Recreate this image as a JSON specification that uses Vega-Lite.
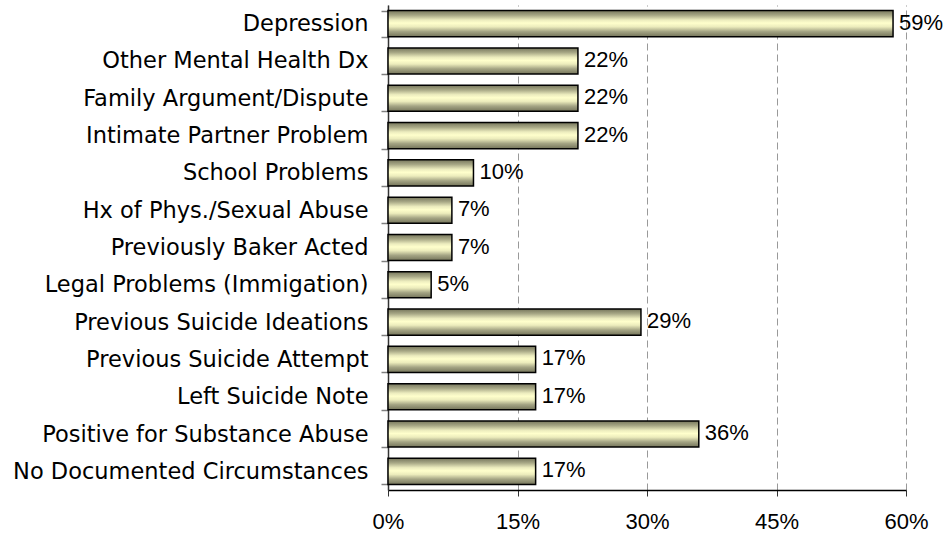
{
  "$schema": "https://vega.github.io/schema/vega-lite/v6.json",
  "autosize": "none",
  "width": 518,
  "height": 485,
  "padding": {"left": 388, "top": 5, "right": 42, "bottom": 43},
  "background": "white",
  "config": {"view": {"stroke": null}},
  "data": {
    "values": [
      {"category": "Depression", "value": 58.5, "label": "59%"},
      {"category": "Other Mental Health Dx", "value": 22.0, "label": "22%"},
      {"category": "Family Argument/Dispute", "value": 22.0, "label": "22%"},
      {"category": "Intimate Partner Problem", "value": 22.0, "label": "22%"},
      {"category": "School Problems", "value": 9.9, "label": "10%"},
      {"category": "Hx of Phys./Sexual Abuse", "value": 7.4, "label": "7%"},
      {"category": "Previously Baker Acted", "value": 7.4, "label": "7%"},
      {"category": "Legal Problems (Immigation)", "value": 5.0, "label": "5%"},
      {"category": "Previous Suicide Ideations", "value": 29.3, "label": "29%"},
      {"category": "Previous Suicide Attempt", "value": 17.1, "label": "17%"},
      {"category": "Left Suicide Note", "value": 17.1, "label": "17%"},
      {"category": "Positive for Substance Abuse", "value": 36.0, "label": "36%"},
      {"category": "No Documented Circumstances", "value": 17.1, "label": "17%"}
    ]
  },
  "encoding": {
    "y": {
      "field": "category",
      "type": "nominal",
      "sort": null,
      "scale": {"paddingInner": 0.3, "paddingOuter": 0.15},
      "axis": {
        "title": null,
        "domainColor": "#333333",
        "domainWidth": 1.5,
        "tickBand": "extent",
        "tickColor": "#808080",
        "tickWidth": 1.5,
        "tickSize": 7,
        "labelPadding": 13,
        "labelFont": "DejaVu Sans",
        "labelFontSize": 22.5,
        "labelColor": "#000000",
        "labelLimit": 400
      }
    },
    "x": {
      "field": "value",
      "type": "quantitative",
      "scale": {"domain": [0, 60], "nice": false},
      "axis": {
        "title": null,
        "values": [0, 15, 30, 45, 60],
        "labelExpr": "datum.value + '%'",
        "labelFlush": false,
        "labelOverlap": false,
        "grid": true,
        "gridColor": "#999999",
        "gridDash": [7, 4],
        "gridWidth": 1,
        "domainColor": "#000000",
        "domainWidth": 1.5,
        "tickColor": "#333333",
        "tickSize": 6,
        "labelPadding": 15,
        "labelFont": "Liberation Sans",
        "labelFontSize": 22,
        "labelColor": "#000000"
      }
    }
  },
  "layer": [
    {
      "mark": {
        "type": "bar",
        "stroke": "#000000",
        "strokeWidth": 1.5,
        "color": {
          "gradient": "linear",
          "x1": 0, "y1": 0, "x2": 0, "y2": 1,
          "stops": [
            {"offset": 0, "color": "#76765c"},
            {"offset": 0.18, "color": "#a8a886"},
            {"offset": 0.36, "color": "#ececbe"},
            {"offset": 0.48, "color": "#ffffcc"},
            {"offset": 0.62, "color": "#ececbc"},
            {"offset": 0.8, "color": "#a4a484"},
            {"offset": 1, "color": "#74745a"}
          ]
        }
      }
    },
    {
      "mark": {
        "type": "text",
        "align": "left",
        "baseline": "middle",
        "dx": 6,
        "dy": -1,
        "font": "Liberation Sans",
        "fontSize": 22,
        "color": "#000000"
      },
      "encoding": {"text": {"field": "label"}}
    }
  ]
}
